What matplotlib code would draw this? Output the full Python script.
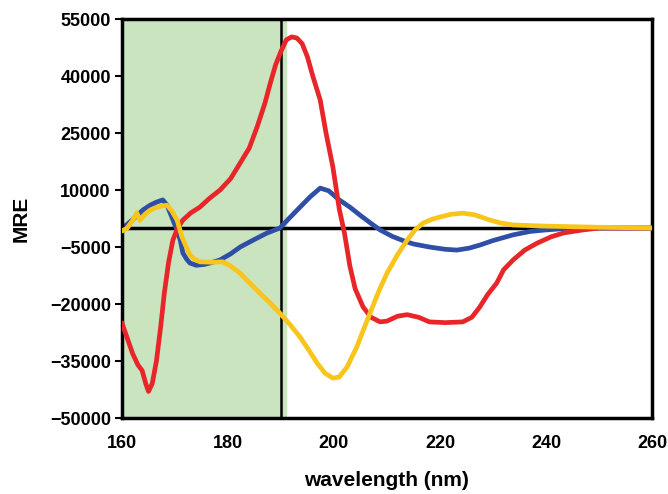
import matplotlib
matplotlib.use("Agg")
import matplotlib.pyplot as plt

# wavelength (nm) / MRE values
red_x = [160, 161, 162, 163, 163.8, 164.5, 165, 165.7, 166.5, 167.3, 168, 168.8, 169.6, 170.5,
         171.5, 173, 174.7, 176.5, 178.5, 180.5, 182.3, 184, 185.5, 187, 188, 189, 190, 191,
         192, 193, 194, 195, 196, 197.4, 198.5, 199.8, 201, 202, 203, 204, 205.5, 207, 208.7,
         210, 212, 213.8, 216, 218, 221, 224.3, 226, 227.5, 229, 230.7, 232, 233.8, 236, 238.3,
         241, 243.3, 247, 250, 255, 260]
red_y = [-25000, -29000, -33000, -36000, -37500, -41000, -43000, -41000, -35000, -26000, -17000,
         -9000, -3200, 0, 2100, 4000, 5500, 7800, 10000, 13000, 17100, 21000, 26600, 33000, 38200,
         43000, 46500, 49500, 50300, 50000, 48500, 45000, 40000, 33700, 25000, 16000, 5000, -1500,
         -10000, -16000, -20800, -23500, -24700, -24500, -23200, -22800, -23500, -24700, -24900,
         -24700, -23500, -20800, -17500, -14500, -11000, -8400, -5800, -4000, -2300, -1300, -500,
         0, 0, 0]

blue_x = [160, 161, 162, 163, 164, 165.3, 166.5, 167.7, 168.5, 169.4, 170.3, 171, 171.5, 172.2,
          172.8, 174, 175.5, 176.6, 178.5, 180.5, 182.3, 185, 187.4, 189.8, 191.5, 193.6, 195.5,
          197.4, 199, 201, 203, 205, 207, 208.7, 211, 213, 215, 218, 221, 223.2, 225.5, 227.5,
          230, 233.8, 237, 240, 244, 250, 260]
blue_y = [0, 1000, 2200, 3500, 4800, 6000, 6800, 7400, 6000, 2900, -300, -3200, -6600, -8200,
          -9200, -9800, -9600, -9200, -8400, -6800, -5000, -3000, -1300, 0, 2500, 5500, 8200,
          10500, 9800, 7400, 5500, 3300, 1200, -500, -2200, -3300, -4200, -5000, -5600, -5800,
          -5300, -4500, -3300, -1800, -900, -500, -100, 0, 0]

yellow_x = [160, 161, 162, 162.8, 163.4, 164.3, 165.3, 166.5, 167.5, 168.5, 169.4, 170.4, 171.3,
            172.3, 172.8, 173.7, 174.7, 177, 179, 180.5, 182.3, 184, 186, 188, 189.8, 191.7,
            193.6, 195.2, 196.8, 198.3, 199.8, 201, 202.5, 204.3, 205.5, 206.8, 208.5, 210, 212,
            213.8, 215.3, 216.8, 218.5, 220, 222, 224.3, 226.5, 229.4, 231.5, 233.8, 240, 250, 260]
yellow_y = [-800, 0, 2000, 4000, 2000, 3500, 4700, 5400, 5800, 6000, 4500, 2100, -2300, -5500,
            -7000, -8200, -8900, -9000, -8900, -10000, -11900, -14300, -17100, -19800, -22400,
            -25400, -28700, -32000, -35500, -38200, -39500, -39200, -36500, -31300, -27000,
            -22400, -16500, -11900, -7000, -3200, -500, 1300, 2300, 2900, 3600, 3900, 3500, 2100,
            1300, 800, 500, 200, 0]

x_ticks = [160, 180, 200, 220, 240, 260]
y_ticks = [-50000, -35000, -20000, -5000, 10000, 25000, 40000, 55000]
shade_end = 191
marker_x = 190

plt.rcParams['font.family'] = ['Liberation Sans', 'DejaVu Sans']
plt.rcParams['font.weight'] = 'bold'

fig = plt.figure(figsize=(6.68, 4.94), dpi=100)
ax = fig.add_axes([0.1826, 0.1538, 0.7934, 0.8077])

ax.axvspan(160, shade_end, color='#c9e4bf', zorder=0)
ax.axhline(0, color='black', lw=2.5, zorder=1)
ax.axvline(marker_x, color='black', lw=1.8, zorder=1)

ax.plot(blue_x, blue_y, color='#2f4fa6', lw=3.4, zorder=2,
        solid_capstyle='round', solid_joinstyle='round')
ax.plot(red_x, red_y, color='#e8262a', lw=3.4, zorder=3,
        solid_capstyle='round', solid_joinstyle='round')
ax.plot(yellow_x, yellow_y, color='#f9c51a', lw=3.4, zorder=4,
        solid_capstyle='round', solid_joinstyle='round')

ax.set_xlim(160, 260)
ax.set_ylim(-50000, 55000)
ax.set_xticks(x_ticks)
ax.set_yticks(y_ticks)
ax.tick_params(axis='x', length=0, pad=12, labelsize=13)
ax.tick_params(axis='y', length=5, width=1.5, direction='out', pad=3, labelsize=13)
for s in ax.spines.values():
    s.set_linewidth(2.5)

ax.set_xlabel('wavelength (nm)', fontsize=15, fontweight='bold', labelpad=14)
ax.set_ylabel('MRE', fontsize=15, fontweight='bold', labelpad=14)

fig.savefig('out.png', dpi=100)
